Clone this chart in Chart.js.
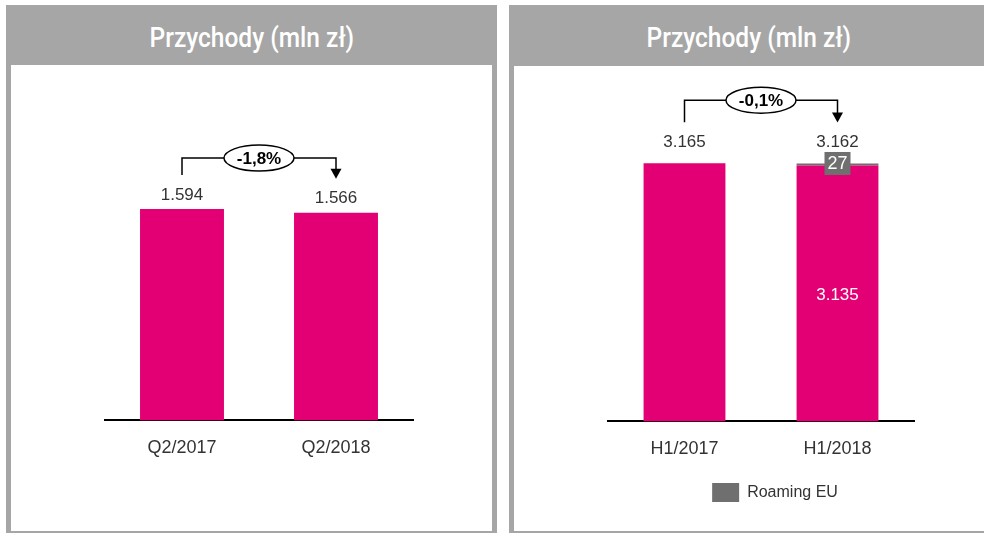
<!DOCTYPE html>
<html lang="pl">
<head>
<meta charset="utf-8">
<title>Przychody (mln zł)</title>
<script src="https://cdn.jsdelivr.net/npm/chart.js@4.4.1/dist/chart.umd.min.js"></script>
<style>
  body { margin: 0; width: 984px; height: 533px; overflow: hidden; background: #fff; position: relative; }
  .panel { position: absolute; background: #a6a6a6; overflow: hidden; }
  .panel h2 { margin: 0; height: 60px; font: 500 28px Roboto, sans-serif; line-height: 66px; text-align: center; color: #fff; }
  .panel h2 span { display: inline-block; transform: scaleX(0.875); }
  .panel .body { position: absolute; background: #fff; }
  canvas { position: absolute; left: 0; top: 0; }
</style>
</head>
<body>
<div class="panel" style="left:6px; top:5px; width:491px; height:528px;">
  <h2><span>Przychody (mln zł)</span></h2>
  <div class="body" style="left:5px; top:60px; width:481px; height:466px;">
    <canvas id="quarter" width="481" height="466"></canvas>
  </div>
</div>
<div class="panel" style="left:509px; top:5px; width:480px; height:528px;">
  <h2><span>Przychody (mln zł)</span></h2>
  <div class="body" style="left:5px; top:61px; width:470px; height:465px;">
    <canvas id="half" width="470" height="465"></canvas>
  </div>
</div>
<script>
// data
const quarterLabels = ['Q2/2017', 'Q2/2018'];
const quarterRevenue = [1594, 1566];
const quarterChange = '-1,8%';

const halfLabels = ['H1/2017', 'H1/2018'];
const halfRevenue = [3165, 3135];
const halfRoaming = [null, 27];
const halfChange = '-0,1%';

const MAGENTA = '#e20074';
const ROAMING_GREY = '#6f6f6f';
const TEXT = '#333333';
const FONT = '"Liberation Sans", Arial, sans-serif';

// 1594 -> "1.594"
function fmt(v) {
    return String(v).replace(/\B(?=(\d{3})+(?!\d))/g, '.');
}

// totals above bars, values inside stacked bars and the bracket with % change
const revenueLabels = {
    id: 'revenueLabels',
    afterDatasetsDraw(chart, args, opts) {
        const ctx = chart.ctx;
        const metas = chart.getSortedVisibleDatasetMetas();
        const points = [];

        ctx.save();
        ctx.textAlign = 'center';
        ctx.textBaseline = 'middle';

        chart.data.labels.forEach((lbl, i) => {
            let x = 0, top = Infinity, total = 0;
            metas.forEach(meta => {
                const v = chart.data.datasets[meta.index].data[i];
                if (v == null) return;
                const bar = meta.data[i];
                x = bar.x;
                top = Math.min(top, bar.y);
                total += v;
            });
            const y = top - opts.labelGap;
            ctx.font = '17px ' + FONT;
            ctx.fillStyle = TEXT;
            ctx.fillText(fmt(total), x, y);
            points.push({ x, y });
        });

        // white value inside the main bar, grey badge on the roaming slice
        if (metas.length > 1) {
            const main = metas[0];
            const extra = metas[1];
            chart.data.datasets[extra.index].data.forEach((v, i) => {
                if (v == null) return;
                const mb = main.data[i];
                const eb = extra.data[i];
                ctx.font = '17px ' + FONT;
                ctx.fillStyle = '#fff';
                ctx.fillText(fmt(chart.data.datasets[main.index].data[i]), mb.x, (mb.y + mb.base) / 2 + 2);

                const cy = (eb.y + eb.base) / 2 - 1;
                ctx.fillStyle = ROAMING_GREY;
                ctx.fillRect(eb.x - 13, cy - 11.5, 26, 23);
                ctx.fillStyle = '#fff';
                ctx.font = '18px ' + FONT;
                ctx.fillText(fmt(v), eb.x, cy + 1);
            });
        }

        // bracket from first to second bar
        const a = points[0];
        const b = points[1];
        const by = Math.min(a.y, b.y) - opts.rise;
        const cx = (a.x + b.x) / 2;
        const rx = 35, ry = 13;
        const tip = b.y - 20;

        ctx.strokeStyle = '#000';
        ctx.lineWidth = 1.5;
        ctx.beginPath();
        ctx.moveTo(a.x, a.y - 20);
        ctx.lineTo(a.x, by);
        ctx.lineTo(cx - rx, by);
        ctx.moveTo(cx + rx, by);
        ctx.lineTo(b.x, by);
        ctx.lineTo(b.x, tip - 9);
        ctx.stroke();

        ctx.fillStyle = '#000';
        ctx.beginPath();
        ctx.moveTo(b.x - 5.5, tip - 10);
        ctx.lineTo(b.x + 5.5, tip - 10);
        ctx.lineTo(b.x, tip);
        ctx.closePath();
        ctx.fill();

        ctx.beginPath();
        ctx.ellipse(cx, by, rx, ry, 0, 0, Math.PI * 2);
        ctx.fillStyle = '#fff';
        ctx.fill();
        ctx.stroke();

        ctx.fillStyle = '#000';
        ctx.font = 'bold 17px ' + FONT;
        ctx.fillText(opts.change, cx, by + 1);
        ctx.restore();
    }
};

const xAxis = {
    grid: { display: false, drawTicks: false },
    border: { color: '#000', width: 2 },
    ticks: { color: TEXT, font: { size: 18, family: FONT }, padding: 17 }
};

new Chart(document.getElementById('quarter'), {
    type: 'bar',
    data: {
        labels: quarterLabels,
        datasets: [{
            label: 'Przychody',
            data: quarterRevenue,
            backgroundColor: MAGENTA,
            categoryPercentage: 0.545,
            barPercentage: 1
        }]
    },
    options: {
        responsive: false,
        animation: false,
        devicePixelRatio: 1,
        layout: { padding: { top: 24, left: 94, right: 79, bottom: 55 } },
        scales: {
            x: xAxis,
            y: { display: false, min: 0, max: 2500 }
        },
        plugins: {
            legend: { display: false },
            tooltip: { enabled: false },
            revenueLabels: { labelGap: 14, rise: 37, change: quarterChange }
        }
    },
    plugins: [revenueLabels]
});

new Chart(document.getElementById('half'), {
    type: 'bar',
    data: {
        labels: halfLabels,
        datasets: [{
            label: 'Przychody',
            data: halfRevenue,
            backgroundColor: MAGENTA,
            categoryPercentage: 0.535,
            barPercentage: 1
        }, {
            label: 'Roaming EU',
            data: halfRoaming,
            backgroundColor: ROAMING_GREY,
            borderWidth: 0,
            categoryPercentage: 0.535,
            barPercentage: 1
        }]
    },
    options: {
        responsive: false,
        animation: false,
        devicePixelRatio: 1,
        layout: { padding: { top: 29, left: 94, right: 42, bottom: 19 } },
        scales: {
            x: Object.assign({ stacked: true }, xAxis),
            y: {
                stacked: true,
                min: 0,
                max: 4000,
                position: 'right',
                grid: { display: false },
                border: { display: false },
                ticks: { display: false },
                // empty strip on the right so the legend sits a bit right of centre
                afterFit(axis) { axis.width = 28; }
            }
        },
        plugins: {
            legend: {
                position: 'bottom',
                labels: {
                    boxWidth: 27,
                    boxHeight: 19,
                    padding: 6,
                    color: TEXT,
                    font: { size: 16, family: FONT },
                    filter: item => item.datasetIndex === 1
                }
            },
            tooltip: { enabled: false },
            revenueLabels: { labelGap: 21, rise: 42, change: halfChange }
        }
    },
    plugins: [revenueLabels]
});
</script>
</body>
</html>
